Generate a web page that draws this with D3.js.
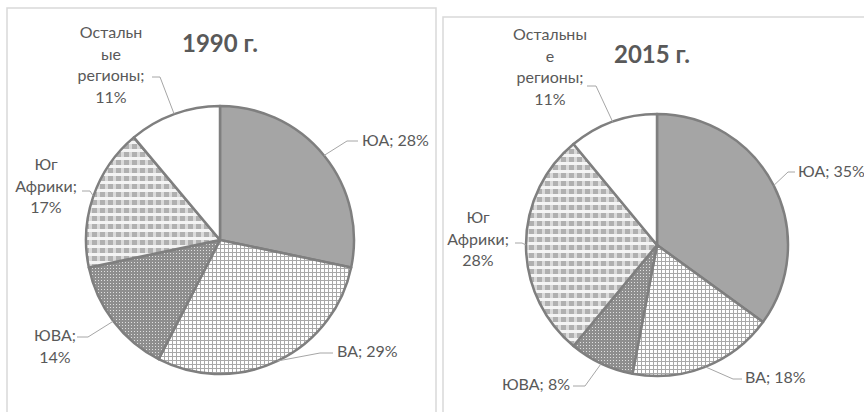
<!DOCTYPE html>
<html>
<head>
<meta charset="utf-8">
<script src="https://cdn.jsdelivr.net/npm/d3@7"></script>
<style>
  body { margin: 0; background: #fff; }
  svg { display: block; }
  text { font-family: Lato, "Open Sans", sans-serif; fill: #595959; }
</style>
</head>
<body>
<svg id="chart" width="864" height="412"></svg>
<script>
// regions, clockwise from 12 o'clock
var regions = ["ЮА", "ВА", "ЮВА", "Юг Африки", "Остальные регионы"];
var shares1990 = [28, 29, 14, 17, 11];
var shares2015 = [35, 18, 8, 28, 11];
var years = ["1990 г.", "2015 г."];
// how excel wrapped the labels (name part)
var names1990 = [["ЮА;"], ["ВА;"], ["ЮВА;"], ["Юг", "Африки;"], ["Остальн", "ые", "регионы;"]];
var names2015 = [["ЮА;"], ["ВА;"], ["ЮВА;"], ["Юг", "Африки;"], ["Остальны", "е", "регионы;"]];

var fills = ["#a5a5a5", "url(#pGrid)", "url(#pDots)", "url(#pCheck)", "#ffffff"];

var svg = d3.select("#chart");

// patterns for the hatched slices
var defs = svg.append("defs");
var pg = defs.append("pattern").attr("id", "pGrid").attr("patternUnits", "userSpaceOnUse")
  .attr("width", 4).attr("height", 4);
pg.append("rect").attr("width", 4).attr("height", 4).attr("fill", "#fff");
pg.append("rect").attr("width", 4).attr("height", 1).attr("fill", "#a8a8a8");
pg.append("rect").attr("width", 1).attr("height", 4).attr("fill", "#a8a8a8");

var pd = defs.append("pattern").attr("id", "pDots").attr("patternUnits", "userSpaceOnUse")
  .attr("width", 3).attr("height", 3);
pd.append("rect").attr("width", 3).attr("height", 3).attr("fill", "#8e8e8e");
pd.append("rect").attr("x", 1).attr("y", 1).attr("width", 1).attr("height", 1).attr("fill", "#e0e0e0");

var pc = defs.append("pattern").attr("id", "pCheck").attr("patternUnits", "userSpaceOnUse")
  .attr("width", 8).attr("height", 8);
pc.append("rect").attr("width", 8).attr("height", 8).attr("fill", "#f4f4f4");
pc.append("rect").attr("width", 8).attr("height", 5).attr("fill", "#dadada");
pc.append("rect").attr("width", 5).attr("height", 5).attr("fill", "#b0b0b0");

// layout of each panel (box, pie centre, label anchors)
var panels = [
  { data: shares1990, names: names1990, title: years[0],
    box: [7, 8, 429, 420], cx: 220, cy: 240, r: 134, titleX: 220, titleY: 52,
    labels: [
      { x: 362, y: 146, anchor: "start", ax: 358, ay: 141, kx: 347 },
      { x: 337, y: 357, anchor: "start", ax: 333, ay: 353, kx: 320 },
      { x: 55, y: 341, anchor: "middle", ax: 77, ay: 337, kx: 88 },
      { x: 46, y: 170, anchor: "middle", ax: 82, ay: 191, kx: 90 },
      { x: 111, y: 38, anchor: "middle", ax: 152, ay: 77, kx: 160 }
    ] },
  { data: shares2015, names: names2015, title: years[1],
    box: [443, 17, 440, 420], cx: 657, cy: 245, r: 131, titleX: 652, titleY: 63,
    labels: [
      { x: 798, y: 177, anchor: "start", ax: 795, ay: 172, kx: 788 },
      { x: 745, y: 383, anchor: "start", ax: 742, ay: 379, kx: 733 },
      { x: 570, y: 390, anchor: "end", ax: 573, ay: 386, kx: 585 },
      { x: 478, y: 223, anchor: "middle", ax: 515, ay: 243, kx: 522 },
      { x: 550, y: 40, anchor: "middle", ax: 587, ay: 86, kx: 596 }
    ] }
];

var pie = d3.pie().sort(null).value(function(d) { return d; });
var lineH = 21.5;

panels.forEach(function(p) {
  svg.append("rect")
    .attr("x", p.box[0]).attr("y", p.box[1])
    .attr("width", p.box[2]).attr("height", p.box[3])
    .attr("fill", "none").attr("stroke", "#d9d9d9").attr("stroke-width", 1.5);

  svg.append("text")
    .attr("x", p.titleX).attr("y", p.titleY)
    .attr("text-anchor", "middle")
    .style("font-size", "24px").style("font-weight", "bold")
    .text(p.title);

  var arc = d3.arc().innerRadius(0).outerRadius(p.r);
  var arcs = pie(p.data);

  var g = svg.append("g").attr("transform", "translate(" + p.cx + "," + p.cy + ")");
  g.selectAll("path.slice")
    .data(arcs)
    .enter().append("path")
    .attr("class", "slice")
    .attr("d", arc)
    .attr("fill", function(d, i) { return fills[i]; })
    .attr("stroke", "#7f7f7f")
    .attr("stroke-width", 2.5)
    .attr("stroke-linejoin", "round");

  // leader lines + labels
  arcs.forEach(function(a, i) {
    var lb = p.labels[i];
    var mid = (a.startAngle + a.endAngle) / 2;
    var px = p.cx + Math.sin(mid) * p.r,
        py = p.cy - Math.cos(mid) * p.r;
    svg.append("polyline")
      .attr("points", [[lb.ax, lb.ay], [lb.kx, lb.ay], [px, py]].join(" "))
      .attr("fill", "none").attr("stroke", "#a6a6a6").attr("stroke-width", 1);

    var lines = p.names[i].slice();
    if (lb.anchor === "middle") lines.push(p.data[i] + "%");
    else lines[lines.length - 1] += " " + p.data[i] + "%";
    var t = svg.append("text")
      .attr("text-anchor", lb.anchor)
      .style("font-size", "16px");
    lines.forEach(function(s, k) {
      t.append("tspan").attr("x", lb.x).attr("y", lb.y + k * lineH).text(s);
    });
  });
});
</script>
</body>
</html>
